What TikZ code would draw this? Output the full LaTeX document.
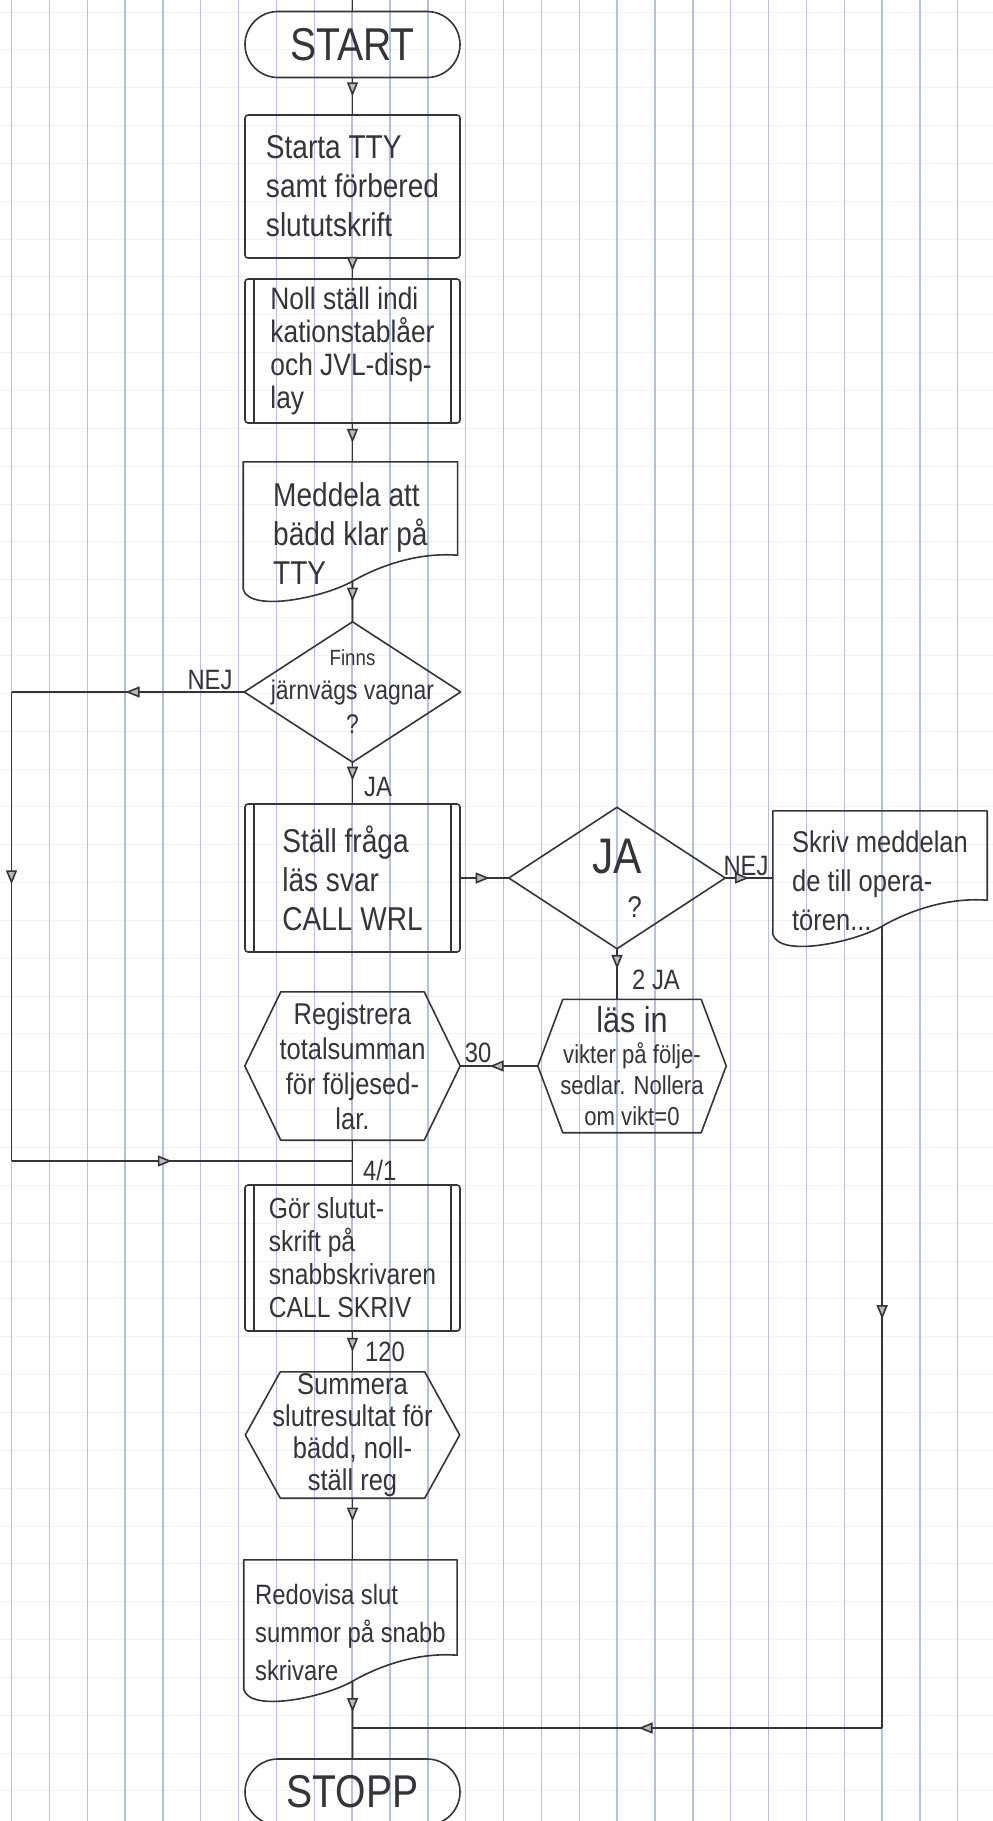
\documentclass[tikz,border=0pt]{standalone}
\usepackage{fontspec}
\newfontfamily\hand{Liberation Sans}[FakeStretch=0.85]
\usetikzlibrary{arrows.meta,decorations.markings,calc}

\definecolor{pencil}{RGB}{52,52,58}
\definecolor{rule}{RGB}{180,192,224}
\definecolor{faint}{RGB}{242,242,245}

\tikzset{
  pen/.style={draw=pencil, line width=1.6pt, line join=round},
  boxtext/.style={font=\hand\fontsize{33}{39}\selectfont, text=pencil, align=left},
  term/.style={pen, rectangle, rounded corners=33pt, minimum width=215pt,
    minimum height=66pt, font=\hand\fontsize{46}{50}\selectfont, text=pencil},
  proc/.style={pen, rectangle, rounded corners=3pt, boxtext, inner sep=2pt},
  pre/.style={proc, path picture={
      \draw[draw=pencil, line width=1.4pt]
        ([xshift=9pt]path picture bounding box.north west) --
        ([xshift=9pt]path picture bounding box.south west)
        ([xshift=-9pt]path picture bounding box.north east) --
        ([xshift=-9pt]path picture bounding box.south east);}},
  shapebox/.style={rectangle, draw=none, inner sep=0pt, boxtext},
  lab/.style={font=\hand\fontsize{28}{30}\selectfont, text=pencil, inner sep=1pt},
  midarr/.style={postaction={decorate}, decoration={markings,
      mark=at position #1 with {\arrow{Triangle[length=14pt,width=11pt,fill=gray!55]}}}},
}

% outlines drawn around the text-holding boxes
\newcommand\diaoutline[1]{\draw[pen] (#1.north) -- (#1.east) -- (#1.south) -- (#1.west) -- cycle;}
\newcommand\hexoutline[2]{\draw[pen] (#1.west) -- ($(#1.north west)+(#2,0)$) --
  ($(#1.north east)+(-#2,0)$) -- (#1.east) -- ($(#1.south east)+(-#2,0)$) --
  ($(#1.south west)+(#2,0)$) -- cycle;}
\newcommand\docoutline[1]{\draw[pen] (#1.north west) -- (#1.north east) --
  ($(#1.south east)+(0,-50)$)
  .. controls ($(#1.south east)!0.18!(#1.south west)+(0,-53)$)
         and ($(#1.south east)!0.36!(#1.south west)+(0,-40)$) ..
  ($(#1.south east)!0.49!(#1.south west)+(0,-24)$) coordinate (#1-out)
  .. controls ($(#1.south east)!0.62!(#1.south west)+(0,-8)$)
         and ($(#1.south east)!0.97!(#1.south west)+(0,8)$) ..
  ($(#1.south west)+(0,-16)$) -- cycle;}

\begin{document}
\begin{tikzpicture}[x=1pt,y=-1pt]
\useasboundingbox (0,0) rectangle (993,1821);
\clip (0,0) rectangle (993,1821);
\fill[white] (0,0) rectangle (993,1821);

% ruled paper
\foreach \k in {0,...,47}
  \draw[faint, line width=1pt] (0,{12+37.85*\k}) -- (993,{12+37.85*\k});
\foreach \k in {0,...,25}
  \draw[rule, line width=1.4pt] ({11.5+37.85*\k},0) -- ({11.5+37.85*\k},1821);

% main column
\node[term] (start) at (352.5,44.5) {START};
\coordinate (top) at (352.5,0);
\node[proc, minimum width=215pt, minimum height=143pt] (b1) at (352.5,186.5)
  {Starta TTY\\samt förbered\\slututskrift};
\node[pre, minimum width=215pt, minimum height=144pt,
  font=\hand\fontsize{31}{33}\selectfont] (b2) at (352.5,351)
  {Noll ställ indi\\kationstablåer\\och JVL-disp-\\lay};
\node[shapebox, minimum width=214pt, minimum height=143pt] (d3) at (350.4,533.5)
  {Meddela att\\bädd klar på\\TTY};
\docoutline{d3}
\node[shapebox, minimum width=216pt, minimum height=140pt, align=center,
  font=\hand\fontsize{27}{34}\selectfont] (q1) at (352.5,692)
  {{\fontsize{22}{24}\selectfont Finns}\\järnvägs vagnar\\?};
\diaoutline{q1}
\node[pre, minimum width=215pt, minimum height=148pt] (b4) at (352.5,878)
  {Ställ fråga\\läs svar\\CALL WRL};
\node[shapebox, minimum width=216pt, minimum height=141pt, align=right,
  font=\hand\fontsize{50}{44}\selectfont] (q2) at (617,878)
  {JA\\{\fontsize{30}{30}\selectfont ?}};
\diaoutline{q2}
\node[shapebox, minimum width=214pt, minimum height=139pt,
  font=\hand\fontsize{30}{39}\selectfont] (d2) at (880,880.5)
  {Skriv meddelan\\de till opera-\\tören...};
\docoutline{d2}
\node[shapebox, minimum width=188pt, minimum height=133pt, align=center,
  font=\hand\fontsize{26}{31}\selectfont] (h2) at (632,1066)
  {{\fontsize{36}{36}\selectfont läs in}\\vikter på följe-\\sedlar. Nollera\\om vikt=0};
\hexoutline{h2}{25}
\node[shapebox, minimum width=215pt, minimum height=148pt, align=center,
  font=\hand\fontsize{30}{35}\selectfont] (h1) at (352.5,1066)
  {Registrera\\totalsumman\\för följesed-\\lar.};
\hexoutline{h1}{36}
\node[pre, minimum width=215pt, minimum height=146pt,
  font=\hand\fontsize{29}{33}\selectfont] (b5) at (352.5,1258)
  {Gör slutut-\\skrift på\\snabbskrivaren\\CALL SKRIV};
\node[shapebox, minimum width=214pt, minimum height=126pt, align=center,
  font=\hand\fontsize{30}{32}\selectfont] (h3) at (352.5,1435)
  {Summera\\slutresultat för\\bädd, noll-\\ställ reg};
\hexoutline{h3}{35}
\node[shapebox, minimum width=213pt, minimum height=145pt,
  font=\hand\fontsize{28}{38}\selectfont] (d4) at (350.4,1632.5)
  {Redovisa slut\\summor på snabb\\skrivare};
\docoutline{d4}
\node[term] (stopp) at (352.5,1792) {STOPP};

% helper points for the loops
\coordinate (railL) at (11.5,0);
\coordinate (join) at (352.5,1161);
\coordinate (merge) at (352.5,1728);

% connectors
\draw[pen] (top) -- (start.north);
\draw[pen, midarr=0.5] (start) -- (b1);
\draw[pen, midarr=0.62] (b1) -- (b2);
\draw[pen, midarr=0.5] (b2.south) -- (b2.south |- d3.north);
\draw[pen, midarr=0.5] (d3-out) -- (q1.north);
\draw[pen, midarr=0.45] (q1.south) -- (b4.north);
\draw[pen, midarr=0.6] (b4.east) -- (q2.west);
\draw[pen, midarr=0.5] (q2.east) -- (q2.east -| d2.west);
\draw[pen, midarr=0.4] (q2.south) -- (q2.south |- h2.north);
\draw[pen, midarr=0.62] (h2.west) -- (h1.east);
\draw[pen] (h1.south) -- (b5.north);
\draw[pen, midarr=0.51] (q1.west) -- (q1.west -| railL) coordinate (c1);
\draw[pen, midarr=0.41] (c1) -- (join -| railL) coordinate (c2);
\draw[pen, midarr=0.47] (c2) -- (join);
\draw[pen, midarr=0.5] (b5) -- (h3);
\draw[pen, midarr=0.38] (h3.south) -- (h3.south |- d4.north);
\draw[pen, midarr=0.4] (d4-out) -- (stopp.north);
\draw[pen, midarr=0.49] (d2-out) -- (d2-out |- merge) coordinate (c3);
\draw[pen, midarr=0.46] (c3) -- (merge);

% connector labels
\node[lab, anchor=south] (lnej1) at (210,691) {NEJ};
\node[lab] (lja1) at (378,787) {JA};
\node[lab, anchor=south] (lnej2) at (746,877) {NEJ};
\node[lab] (lja2) at (656,980) {2 JA};
\node[lab, anchor=south] (l30) at (478,1064) {30};
\node[lab, anchor=west] (l41) at (362,1170) {4/1};
\node[lab] (l120) at (385,1352) {120};
\end{tikzpicture}
\end{document}
